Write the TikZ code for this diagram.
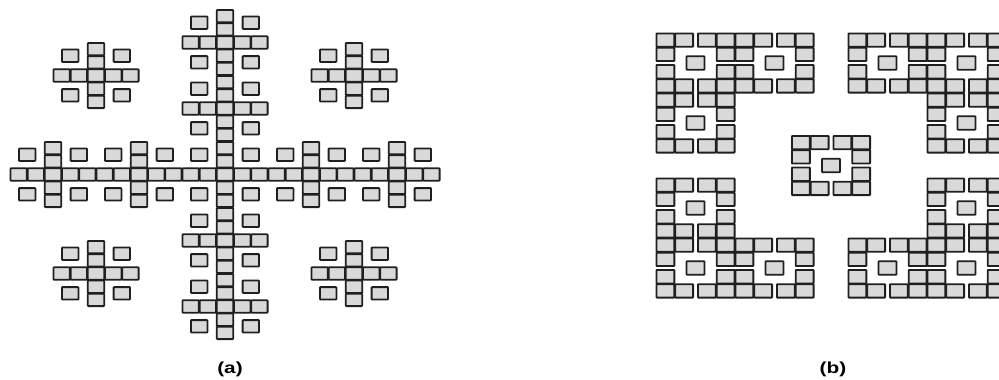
\documentclass[tikz,border=0pt]{standalone}
\usepackage{fontspec}
\setmainfont{Liberation Sans}
\begin{document}
\begin{tikzpicture}[x=1pt,y=-1pt,
  sq/.style={draw=black!88, fill=black!15, line width=1.8pt, rounded corners=0.6pt},
  lab/.style={font=\fontsize{16}{18}\selectfont\bfseries, inner sep=0pt}]
\useasboundingbox (0,0) rectangle (999,380);
\clip (0,0) rectangle (999,380);
% ---------- (a) cross fractal, level 2 ----------
\foreach \X/\Y in {0/0,0/1,0/2,0/-1,0/-2,1/0,2/0,-1/0,-2/0,1.5/1.5,1.5/-1.5,-1.5/1.5,-1.5/-1.5}{
  \foreach \x/\y in {0/0,0/1,0/2,0/-1,0/-2,1/0,2/0,-1/0,-2/0,1.5/1.5,1.5/-1.5,-1.5/1.5,-1.5/-1.5}{
    \path[sq] ({225+17.2*(5*\X+\x)-8.2},{174.5+13.2*(5*\Y+\y)-6.2}) rectangle ++(16.4,12.4);
  }
}
% ---------- (b) ring fractal, level 2 ----------
\foreach \U/\V in {0/0,79/0,192/0,271/0,0/60,271/60,0/145,271/145,0/205,79/205,192/205,271/205,135.5/102.5}{
  \foreach \u/\v in {0/0,18.75/0,41.5/0,60.25/0,0/14.2,60.25/14.2,0/31.6,60.25/31.6,0/45.8,18.75/45.8,41.5/45.8,60.25/45.8,30.125/22.9}{
    \path[sq] ({656+\U+\u+0.4},{33+\V+\v+0.4}) rectangle ++(17.95,13.4);
  }
}
\node[lab] (la) at (230,369) {\scalebox{1.3}[1]{(a)}};
\node[lab] (lb) at (833,369) {\scalebox{1.3}[1]{(b)}};
\end{tikzpicture}
\end{document}
